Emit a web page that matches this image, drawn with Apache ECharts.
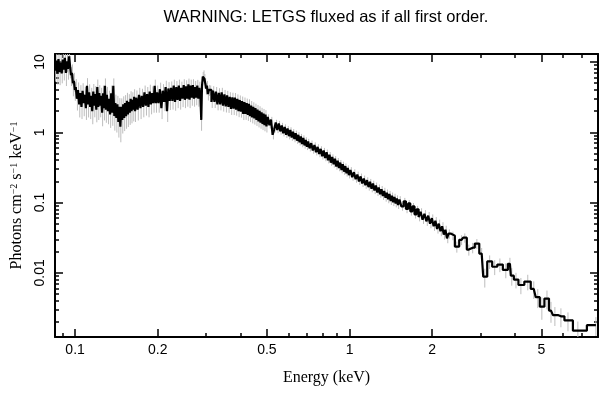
<!DOCTYPE html>
<html>
<head>
<meta charset="utf-8">
<script src="https://cdn.jsdelivr.net/npm/echarts@6/dist/echarts.min.js"></script>
<style>
  html, body { margin: 0; padding: 0; background: #fff; }
  #chart { width: 609px; height: 399px; }
</style>
</head>
<body>
<div id="chart"></div>
<script>
// bin energies (keV)
var energy = [
  // 0.085 - 0.100
  0.0850, 0.0858, 0.0866, 0.0874, 0.0882, 0.0890, 0.0898, 0.0906, 0.0914, 0.0922,
  0.0930, 0.0938, 0.0946, 0.0954, 0.0962, 0.0970, 0.0978, 0.0986, 0.0994, 0.1002,
  // 0.101 - 0.130
  0.101, 0.102, 0.103, 0.104, 0.105, 0.106, 0.107, 0.108, 0.109, 0.110,
  0.111, 0.112, 0.113, 0.114, 0.115, 0.116, 0.117, 0.118, 0.119, 0.120,
  0.121, 0.122, 0.123, 0.124, 0.125, 0.126, 0.127, 0.128, 0.129, 0.130,
  // 0.131 - 0.165
  0.1312, 0.1324, 0.1336, 0.1348, 0.1360, 0.1372, 0.1384, 0.1396, 0.1408, 0.1420,
  0.1432, 0.1444, 0.1456, 0.1468, 0.1480, 0.1492, 0.1504, 0.1516, 0.1528, 0.1540,
  0.1552, 0.1564, 0.1576, 0.1588, 0.1600, 0.1612, 0.1624, 0.1636, 0.1648,
  // 0.166 - 0.200
  0.166, 0.168, 0.170, 0.172, 0.174, 0.176, 0.178, 0.180, 0.182, 0.184,
  0.186, 0.188, 0.190, 0.192, 0.194, 0.196, 0.198, 0.200,
  // 0.2025 - 0.2875
  0.2025, 0.2050, 0.2075, 0.2100, 0.2125, 0.2150, 0.2175, 0.2200, 0.2225, 0.2250,
  0.2275, 0.2300, 0.2325, 0.2350, 0.2375, 0.2400, 0.2425, 0.2450, 0.2475, 0.2500,
  0.2525, 0.2550, 0.2575, 0.2600, 0.2625, 0.2650, 0.2675, 0.2700, 0.2725, 0.2750,
  0.2775, 0.2800, 0.2825, 0.2850, 0.2875,
  // line feature near 0.29
  0.2890, 0.2910, 0.2930, 0.2950, 0.2970, 0.2990, 0.3010, 0.3035, 0.3060, 0.3085,
  // 0.312 - 0.500
  0.312, 0.316, 0.320, 0.324, 0.328, 0.332, 0.336, 0.340, 0.344, 0.348,
  0.352, 0.356, 0.360, 0.364, 0.368, 0.372, 0.376, 0.380, 0.384, 0.388,
  0.392, 0.396, 0.400, 0.404, 0.408, 0.412, 0.416, 0.420, 0.424, 0.428,
  0.432, 0.436, 0.440, 0.444, 0.448, 0.452, 0.456, 0.460, 0.464, 0.468,
  0.472, 0.476, 0.480, 0.484, 0.488, 0.492, 0.496, 0.500,
  // 0.507 - 0.703
  0.507, 0.514, 0.521, 0.528, 0.535, 0.542, 0.549, 0.556, 0.563, 0.570,
  0.577, 0.584, 0.591, 0.598, 0.605, 0.612, 0.619, 0.626, 0.633, 0.640,
  0.647, 0.654, 0.661, 0.668, 0.675, 0.682, 0.689, 0.696, 0.703,
  // 0.71 - 1.00
  0.71, 0.72, 0.73, 0.74, 0.75, 0.76, 0.77, 0.78, 0.79, 0.80,
  0.81, 0.82, 0.83, 0.84, 0.85, 0.86, 0.87, 0.88, 0.89, 0.90,
  0.91, 0.92, 0.93, 0.94, 0.95, 0.96, 0.97, 0.98, 0.99, 1.00,
  // 1.015 - 1.51
  1.015, 1.030, 1.045, 1.060, 1.075, 1.090, 1.105, 1.120, 1.135, 1.150,
  1.165, 1.180, 1.195, 1.210, 1.225, 1.240, 1.255, 1.270, 1.285, 1.300,
  1.315, 1.330, 1.345, 1.360, 1.375, 1.390, 1.405, 1.420, 1.435, 1.450,
  1.465, 1.480, 1.495, 1.510,
  // 1.53 - 2.31
  1.53, 1.56, 1.59, 1.62, 1.65, 1.68, 1.71, 1.74, 1.77, 1.80,
  1.83, 1.86, 1.89, 1.92, 1.95, 1.98, 2.01, 2.04, 2.07, 2.10,
  2.13, 2.16, 2.19, 2.22, 2.25, 2.28, 2.31,
  // wide bins above 2.3 keV
  2.38, 2.46, 2.56, 2.63, 2.72, 2.81, 2.91, 3.03, 3.11, 3.24,
  3.38, 3.53, 3.71, 3.84, 3.90, 4.04, 4.21, 4.46, 4.69, 4.85,
  5.02, 5.24, 5.42, 5.60, 5.89, 6.25, 6.79, 7.90
];

// Photons cm^-2 s^-1 keV^-1
var flux = [
  7.5, 10.5, 6.8, 11.0, 7.2, 9.8, 6.9, 10.8, 7.8, 11.5,
  7.0, 10.2, 8.0, 12.0, 9.0, 6.5, 7.0, 5.0, 5.4, 4.0,

  4.4, 3.0, 4.0, 2.5, 3.6, 2.3, 3.9, 2.6, 3.4, 2.2,
  4.6, 2.5, 3.7, 2.3, 3.3, 2.0, 3.8, 2.4, 3.5, 2.1,
  4.4, 2.3, 3.6, 2.4, 3.3, 1.9, 3.6, 2.2, 4.6, 2.1,

  3.4, 2.0, 3.0, 1.8, 3.6, 1.9, 4.6, 1.7, 2.6, 1.6,
  2.5, 1.4, 2.3, 1.2, 2.3, 1.5, 2.5, 1.6, 2.6, 1.7,
  2.8, 1.8, 2.7, 1.9, 3.0, 2.0, 2.9, 2.1, 3.2,

  2.0, 3.1, 2.1, 3.4, 2.2, 3.3, 2.3, 3.7, 2.4, 3.5,
  2.3, 3.8, 2.5, 3.6, 2.6, 4.6, 2.6, 3.7,

  2.6, 4.1, 2.2, 3.9, 2.7, 4.4, 2.0, 4.2, 2.8, 4.3,
  2.8, 4.6, 2.7, 4.4, 2.9, 4.6, 2.8, 4.3, 3.0, 4.7,
  2.9, 4.5, 3.0, 4.8, 2.9, 4.6, 3.1, 4.7, 3.0, 4.4,
  3.1, 4.6, 3.0, 4.3, 3.1,

  1.5, 4.5, 6.2, 6.6, 5.8, 5.0, 4.2, 4.6, 3.5, 4.0,

  4.0, 2.7, 3.9, 2.7, 3.8, 2.5, 3.65, 2.5, 3.7, 2.4,
  3.45, 2.33, 3.35, 2.3, 3.2, 2.15, 3.15, 2.17, 3.12, 2.1,
  2.98, 2.0, 2.88, 1.97, 2.78, 1.82, 2.69, 1.83, 2.6, 1.77,
  2.54, 1.7, 2.4, 1.63, 2.3, 1.57, 2.2, 1.5, 2.1, 1.43,
  2.02, 1.37, 1.92, 1.31, 1.85, 1.26, 1.78, 1.21,

  1.65, 1.26, 1.52, 0.92, 1.10, 1.38, 1.08, 1.33, 1.03, 1.25,
  0.97, 1.19, 0.92, 1.13, 0.88, 1.08, 0.84, 1.02, 0.80, 0.97,
  0.76, 0.92, 0.72, 0.87, 0.68, 0.83, 0.65, 0.78, 0.62,

  0.74, 0.59, 0.70, 0.55, 0.66, 0.52, 0.62, 0.49, 0.58, 0.455,
  0.55, 0.43, 0.52, 0.40, 0.48, 0.37, 0.445, 0.35, 0.42, 0.325,
  0.395, 0.31, 0.37, 0.29, 0.35, 0.275, 0.33, 0.26, 0.31, 0.245,

  0.29, 0.23, 0.27, 0.215, 0.25, 0.20, 0.235, 0.187, 0.22, 0.176,
  0.208, 0.166, 0.197, 0.157, 0.186, 0.148, 0.175, 0.139, 0.164, 0.131,
  0.155, 0.124, 0.146, 0.117, 0.138, 0.111, 0.132, 0.105, 0.125, 0.101,
  0.12, 0.097, 0.114, 0.092,

  0.11, 0.088, 0.104, 0.081, 0.097, 0.075, 0.088, 0.068, 0.080, 0.062,
  0.074, 0.057, 0.069, 0.054, 0.065, 0.050, 0.060, 0.046, 0.055, 0.042,
  0.050, 0.039, 0.046, 0.035, 0.041, 0.031, 0.036,

  0.0338, 0.0236, 0.0295, 0.0316, 0.0214, 0.0228, 0.0261, 0.0188, 0.0088, 0.0145,
  0.0122, 0.0131, 0.0110, 0.0134, 0.0091, 0.0080, 0.0067, 0.0075, 0.0059, 0.0045,
  0.0033, 0.0043, 0.0029, 0.0025, 0.0024, 0.0021, 0.0015, 0.0018
];

// relative 1-sigma errors (grey bars)
var relErr = [
  0.30, 0.35, 0.30, 0.32, 0.35, 0.30, 0.28, 0.35, 0.30, 0.32,
  0.35, 0.30, 0.30, 0.28, 0.35, 0.30, 0.32, 0.35, 0.30, 0.30,

  0.30, 0.32, 0.28, 0.35, 0.30, 0.33, 0.28, 0.35, 0.30, 0.32,
  0.28, 0.35, 0.30, 0.33, 0.30, 0.35, 0.28, 0.32, 0.30, 0.34,
  0.28, 0.35, 0.30, 0.32, 0.30, 0.36, 0.28, 0.33, 0.27, 0.35,

  0.30, 0.35, 0.30, 0.36, 0.28, 0.35, 0.27, 0.38, 0.32, 0.38,
  0.32, 0.40, 0.33, 0.40, 0.32, 0.36, 0.30, 0.35, 0.30, 0.34,
  0.30, 0.34, 0.29, 0.33, 0.28, 0.33, 0.28, 0.32, 0.28,

  0.30, 0.27, 0.30, 0.26, 0.30, 0.26, 0.29, 0.25, 0.28, 0.26,
  0.29, 0.25, 0.28, 0.25, 0.27, 0.22, 0.27, 0.25,

  0.27, 0.24, 0.30, 0.24, 0.26, 0.23, 0.30, 0.23, 0.26, 0.23,
  0.25, 0.22, 0.25, 0.22, 0.24, 0.22, 0.25, 0.22, 0.24, 0.21,
  0.24, 0.22, 0.23, 0.21, 0.24, 0.22, 0.23, 0.21, 0.23, 0.22,
  0.22, 0.21, 0.23, 0.22, 0.22,

  0.30, 0.20, 0.16, 0.15, 0.16, 0.17, 0.18, 0.17, 0.19, 0.18,

  0.16, 0.18, 0.16, 0.18, 0.16, 0.18, 0.16, 0.18, 0.16, 0.18,
  0.16, 0.18, 0.16, 0.18, 0.16, 0.18, 0.16, 0.19, 0.16, 0.18,
  0.16, 0.18, 0.16, 0.18, 0.16, 0.18, 0.16, 0.18, 0.16, 0.18,
  0.16, 0.18, 0.16, 0.18, 0.16, 0.18, 0.16, 0.18, 0.16, 0.18,
  0.16, 0.18, 0.16, 0.18, 0.16, 0.18, 0.16, 0.18,

  0.09, 0.10, 0.09, 0.14, 0.10, 0.09, 0.10, 0.09, 0.10, 0.09,
  0.10, 0.09, 0.10, 0.09, 0.10, 0.09, 0.10, 0.09, 0.10, 0.09,
  0.10, 0.09, 0.10, 0.09, 0.10, 0.09, 0.10, 0.09, 0.10,

  0.09, 0.10, 0.09, 0.10, 0.09, 0.10, 0.09, 0.10, 0.09, 0.10,
  0.09, 0.10, 0.09, 0.10, 0.09, 0.10, 0.09, 0.10, 0.09, 0.10,
  0.09, 0.10, 0.09, 0.10, 0.09, 0.10, 0.09, 0.10, 0.09, 0.10,

  0.10, 0.11, 0.10, 0.11, 0.10, 0.11, 0.10, 0.11, 0.10, 0.11,
  0.10, 0.11, 0.10, 0.11, 0.10, 0.11, 0.10, 0.11, 0.10, 0.11,
  0.11, 0.12, 0.11, 0.12, 0.11, 0.12, 0.11, 0.12, 0.11, 0.12,
  0.11, 0.12, 0.11, 0.12,

  0.12, 0.13, 0.12, 0.13, 0.12, 0.13, 0.12, 0.13, 0.12, 0.13,
  0.12, 0.13, 0.13, 0.14, 0.13, 0.14, 0.13, 0.14, 0.13, 0.14,
  0.14, 0.15, 0.14, 0.15, 0.14, 0.15, 0.15,

  0.14, 0.18, 0.16, 0.15, 0.18, 0.17, 0.16, 0.20, 0.30, 0.22,
  0.24, 0.22, 0.24, 0.22, 0.28, 0.25, 0.26, 0.25, 0.28, 0.30,
  0.35, 0.30, 0.33, 0.30, 0.30, 0.30, 0.35, 0.30
];

var xMajorTicks = [0.1, 0.2, 0.5, 1, 2, 5];
var xMinorTicks = [0.09, 0.3, 0.4, 0.6, 0.7, 0.8, 0.9, 3, 4, 6, 7, 8];
var yMajorTicks = [0.01, 0.1, 1, 10];
var yMinorTicks = [
  0.002, 0.003, 0.004, 0.005, 0.006, 0.007, 0.008, 0.009,
  0.02, 0.03, 0.04, 0.05, 0.06, 0.07, 0.08, 0.09,
  0.2, 0.3, 0.4, 0.5, 0.6, 0.7, 0.8, 0.9,
  2, 3, 4, 5, 6, 7, 8, 9
];

var xMin = 0.0845, xMax = 8.04;
var yMin = 0.00122, yMax = 13;

var n = Math.min(energy.length, flux.length, relErr.length);
if (energy.length !== flux.length || flux.length !== relErr.length) {
  console.log('length mismatch', energy.length, flux.length, relErr.length);
}
var lineData = [];
var errData = [];
for (var i = 0; i < n; i++) {
  lineData.push([energy[i], flux[i]]);
  errData.push([energy[i], flux[i] * (1 - relErr[i]), flux[i] * (1 + relErr[i])]);
}

function fmt(v) { return String(+(+v).toPrecision(6)); }

function makeX(pos, major) {
  return {
    type: 'log', logBase: 10, position: pos, min: xMin, max: xMax,
    axisLine: { show: major, onZero: false, lineStyle: { color: '#000', width: 2 } },
    axisTick: {
      show: true, inside: true, length: major ? 8 : 4,
      customValues: major ? xMajorTicks : xMinorTicks,
      lineStyle: { color: '#000', width: 1.5 }
    },
    axisLabel: {
      show: major && pos === 'bottom', customValues: xMajorTicks, margin: 6,
      color: '#000', fontFamily: 'Liberation Sans', fontSize: 14, formatter: fmt
    },
    name: (major && pos === 'bottom') ? 'Energy (keV)' : '',
    nameLocation: 'middle', nameGap: 33,
    nameTextStyle: { color: '#000', fontFamily: 'Liberation Serif', fontSize: 16 },
    splitLine: { show: false }, minorTick: { show: false }
  };
}

function makeY(pos, major) {
  return {
    type: 'log', logBase: 10, position: pos, min: yMin, max: yMax,
    axisLine: { show: major, onZero: false, lineStyle: { color: '#000', width: 2 } },
    axisTick: {
      show: true, inside: true, length: major ? 8 : 4,
      customValues: major ? yMajorTicks : yMinorTicks,
      lineStyle: { color: '#000', width: 1.5 }
    },
    axisLabel: {
      show: major && pos === 'left', customValues: yMajorTicks, rotate: 90, margin: 8,
      color: '#000', fontFamily: 'Liberation Sans', fontSize: 14, formatter: fmt
    },
    name: (major && pos === 'left') ? 'Photons cm{s|\u22122} s{s|\u22121} keV{s|\u22121}' : '',
    nameLocation: 'middle', nameGap: 30, nameRotate: 90,
    nameTextStyle: {
      color: '#000', fontFamily: 'Liberation Serif', fontSize: 16,
      rich: { s: { fontFamily: 'Liberation Serif', fontSize: 10, color: '#000', verticalAlign: 'top' } }
    },
    splitLine: { show: false }, minorTick: { show: false }
  };
}

var chart = echarts.init(document.getElementById('chart'), null, { renderer: 'canvas' });
chart.setOption({
  animation: false,
  backgroundColor: '#fff',
  graphic: [{
    type: 'text', x: 326, y: 17,
    style: {
      text: 'WARNING: LETGS fluxed as if all first order.',
      fill: '#000', font: '16.5px "Liberation Sans"',
      textAlign: 'center', textVerticalAlign: 'middle'
    }
  }],
  grid: { left: 55, right: 11, top: 54, bottom: 62, containLabel: false },
  xAxis: [makeX('bottom', true), makeX('bottom', false), makeX('top', true), makeX('top', false)],
  yAxis: [makeY('left', true), makeY('left', false), makeY('right', true), makeY('right', false)],
  series: [
    {
      type: 'custom', name: 'errors', xAxisIndex: 0, yAxisIndex: 0,
      data: errData, encode: { x: 0, y: [1, 2] }, clip: true, z: 1,
      renderItem: function (params, api) {
        var p0 = api.coord([api.value(0), api.value(1)]);
        var p1 = api.coord([api.value(0), api.value(2)]);
        return {
          type: 'line',
          shape: { x1: p0[0], y1: p0[1], x2: p1[0], y2: p1[1] },
          style: { stroke: '#bdbdbd', lineWidth: 1 }
        };
      }
    },
    {
      type: 'line', name: 'spectrum', xAxisIndex: 0, yAxisIndex: 0,
      data: lineData, step: 'middle', showSymbol: false, symbol: 'none',
      clip: true, z: 3,
      lineStyle: { color: '#000', width: 2.2 }
    }
  ]
});
</script>
</body>
</html>
